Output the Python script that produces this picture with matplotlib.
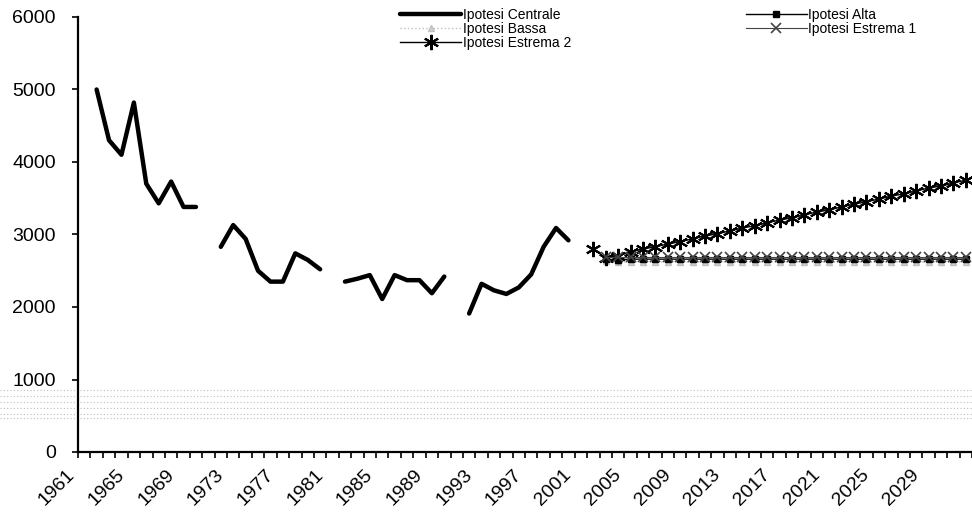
import numpy as np
import matplotlib
matplotlib.use("Agg")
import matplotlib.pyplot as plt
from matplotlib.lines import Line2D
from matplotlib.transforms import ScaledTranslation

plt.rcParams['font.family'] = ['Liberation Sans', 'DejaVu Sans']

# observed series (gaps in census years)
anni_centrale = list(range(1962, 2001))
centrale = [5000, 4300, 4100, 4820, 3700, 3430, 3730, 3380, 3380, np.nan,
            2830, 3130, 2940, 2500, 2350, 2350, 2740, 2650, 2520, np.nan,
            2350, 2390, 2440, 2110, 2440, 2370, 2370, 2190, 2420, np.nan,
            1910, 2320, 2230, 2180, 2270, 2450, 2830, 3090, 2920]

# projections
anni_proiez = list(range(2003, 2033))
alta = [2660, 2650, 2660, 2660, 2660, 2660, 2660, 2660, 2660, 2660,
        2660, 2660, 2660, 2660, 2660, 2660, 2660, 2660, 2660, 2660,
        2660, 2660, 2660, 2660, 2660, 2660, 2660, 2660, 2660, 2660]
bassa = [2630, 2620, 2620, 2620, 2620, 2620, 2620, 2620, 2620, 2620,
         2620, 2620, 2620, 2620, 2620, 2620, 2620, 2620, 2620, 2620,
         2620, 2620, 2620, 2620, 2620, 2620, 2620, 2620, 2620, 2620]
estrema1 = [2690, 2690, 2690, 2690, 2690, 2690, 2690, 2690, 2690, 2690,
            2690, 2690, 2690, 2690, 2690, 2690, 2690, 2690, 2690, 2690,
            2690, 2690, 2690, 2690, 2690, 2690, 2690, 2690, 2690, 2690]
anni_est2 = list(range(2002, 2033))
estrema2 = [2800, 2680, 2710, 2760, 2800, 2830, 2870, 2900, 2940, 2980,
            3010, 3050, 3090, 3120, 3160, 3200, 3230, 3270, 3310, 3340,
            3380, 3420, 3450, 3490, 3530, 3560, 3600, 3640, 3670, 3710, 3750]

etichette_anni = list(range(1961, 2030, 4))
yticks = [0, 1000, 2000, 3000, 4000, 5000, 6000]

fig = plt.figure(figsize=(9.72, 5.23), dpi=100)
ax = fig.add_axes([78/972, 1-452/523, 1-78/972, (452-17)/523])
ax.set_facecolor('none')

# scan texture band
for yy in [390, 396, 402, 408, 414, 418]:
    fig.add_artist(Line2D([0, 1], [1-yy/523, 1-yy/523], transform=fig.transFigure,
                          color='#bdbdbd', lw=0.8, ls=(0, (1, 2)), zorder=0))

ax.plot(anni_centrale, centrale, color='black', lw=3.2, solid_capstyle='round',
        label='Ipotesi Centrale', zorder=5)
ax.plot(anni_proiez, bassa, color='#bfbfbf', lw=1, ls=':', marker='^', ms=5,
        mfc='#d0d0d0', mec='#bfbfbf', label='Ipotesi Bassa', zorder=3)
ax.plot(anni_est2, estrema2, color='black', lw=1, marker=(6, 2, 0), ms=11, mew=1.5,
        label='Ipotesi Estrema 2', zorder=4)
ax.plot(anni_proiez, alta, color='black', lw=1, marker='s', ms=5,
        label='Ipotesi Alta', zorder=4)
ax.plot(anni_proiez, estrema1, color='#444444', lw=0.8, marker='x', ms=7, mew=1.2,
        label='Ipotesi Estrema 1', zorder=4)

ax.set_xlim(1960.5, 2032.1)
ax.set_ylim(0, 6000)
ax.set_yticks(yticks)
ax.set_yticklabels([str(v) for v in yticks])
ax.set_xticks(etichette_anni)
ax.set_xticklabels([str(a) for a in etichette_anni], rotation=45, ha='right',
                   va='top', rotation_mode='anchor')
ax.set_xticks(np.arange(1960.5, 2032.6, 1), minor=True)
ax.tick_params(axis='x', which='major', length=0, pad=10, labelsize=14)
ax.tick_params(axis='x', which='minor', length=4, width=1.2, direction='out')
ax.tick_params(axis='y', length=4, width=1.2, direction='out', pad=12, labelsize=14)
for lbl in ax.get_xticklabels():
    lbl.set_transform(lbl.get_transform() + ScaledTranslation(-13/72, 0, fig.dpi_scale_trans))

for s in ['top', 'right']:
    ax.spines[s].set_visible(False)
for s in ['left', 'bottom']:
    ax.spines[s].set_linewidth(1.6)

ax.legend(loc='upper left', bbox_to_anchor=(400/972, 1-8/523), bbox_transform=fig.transFigure,
          ncol=2, frameon=False, fontsize=10, handlelength=4.4, handletextpad=0.1,
          columnspacing=12.6, labelspacing=0.0, borderpad=0, borderaxespad=0)

fig.savefig('out.png', dpi=100)
